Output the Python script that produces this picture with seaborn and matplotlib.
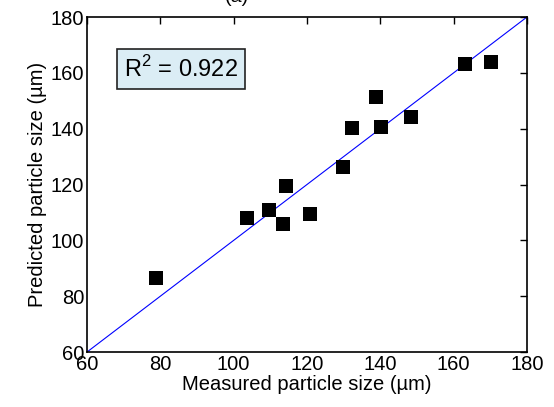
import matplotlib
matplotlib.use("Agg")
import matplotlib.pyplot as plt
import seaborn as sns
import pandas as pd

# measured vs predicted particle size (um)
measured = [78.7, 103.6, 109.7, 113.4, 114.3, 120.9, 129.8, 132.3, 138.9, 140.3, 148.4, 163.1, 170.2]
predicted = [86.6, 108.1, 110.8, 106.0, 119.6, 109.4, 126.3, 140.4, 151.3, 140.5, 144.1, 163.3, 163.8]
ideal = [60, 180]
ticks = [60, 80, 100, 120, 140, 160, 180]
r2_text = "R$^2$ = 0.922"

df = pd.DataFrame({"measured": measured, "predicted": predicted})
line_df = pd.DataFrame({"x": ideal, "y": ideal})

sns.set_style("white")
plt.rcParams["font.family"] = ["Liberation Sans", "DejaVu Sans"]
plt.rcParams["mathtext.fontset"] = "custom"
plt.rcParams["mathtext.rm"] = "Liberation Sans"
plt.rcParams["text.color"] = "black"
plt.rcParams["axes.labelcolor"] = "black"

fig = plt.figure(figsize=(5.54, 4.07), dpi=100)
ax = fig.add_axes([0.157, 0.135, 0.794, 0.823])

sns.lineplot(data=line_df, x="x", y="y", ax=ax, color="#0000ff", linewidth=0.8)
sns.scatterplot(data=df, x="measured", y="predicted", ax=ax, marker="s",
                color="black", s=110, edgecolor="black", linewidth=0, zorder=3)

ax.set_xlim(60, 180)
ax.set_ylim(60, 180)
ax.set_xticks(ticks)
ax.set_yticks(ticks)
ax.tick_params(direction="in", length=5, width=1, top=True, right=True,
               labelsize=14.5, colors="black", pad=2)
for sp in ax.spines.values():
    sp.set_color("black")
    sp.set_linewidth(1.2)

ax.set_xlabel("Measured particle size (\u00b5m)", fontsize=14.5, labelpad=1)
ax.set_ylabel("Predicted particle size (\u00b5m)", fontsize=14.5, labelpad=3)

ax.text(0.085, 0.845, r2_text, transform=ax.transAxes, fontsize=17,
        va="center", ha="left",
        bbox=dict(boxstyle="square,pad=0.3", facecolor="#dbedf5", edgecolor="#222222", linewidth=1.2))

# partially visible panel label at the very top
fig.text(0.428, 1.005, "(a)", fontsize=14, ha="center", va="center")

fig.savefig("out.png", dpi=100)
